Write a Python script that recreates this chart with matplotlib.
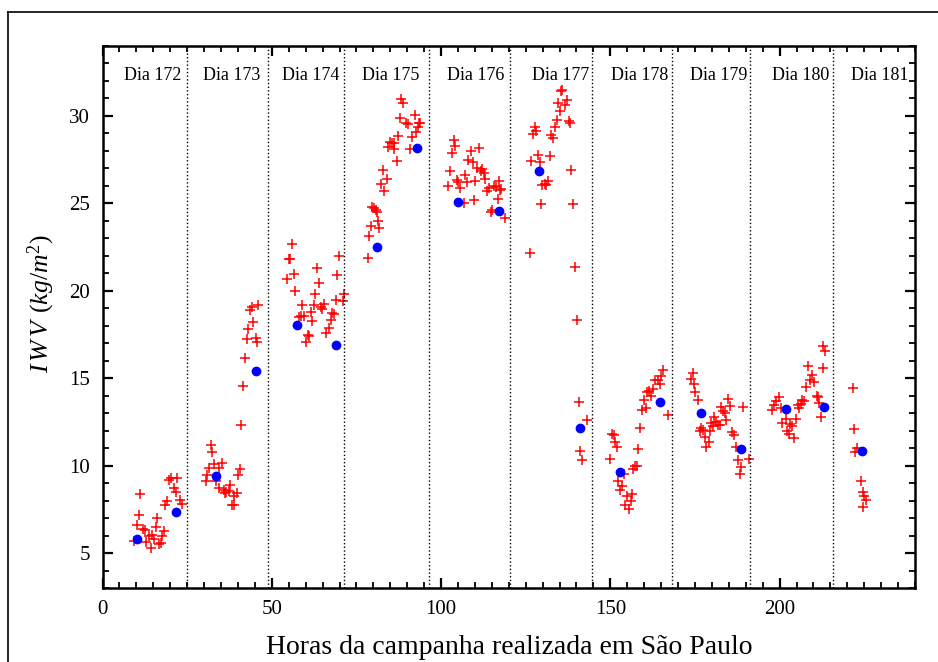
import matplotlib
matplotlib.use('Agg')
import matplotlib.pyplot as plt
from matplotlib.lines import Line2D
from matplotlib.ticker import MultipleLocator

# IWV from GPS (red crosses), hours since start of campaign
gps_hours = [
    9.4, 11.1, 10.7, 10.2, 12.0, 12.4, 12.9, 13.6, 14.2, 14.7, 15.1, 15.7, 16.2, 16.6, 17.2, 17.6, 18.2, 18.5, 19.1, 19.6, 20.3, 22.1, 21.1, 21.6, 23.0, 23.6,
    30.5, 30.9, 31.5, 32.1, 32.4, 33.0, 33.6, 34.3, 34.5, 35.2, 35.8, 36.2, 36.6, 37.4, 37.6, 38.1, 38.7, 38.9, 39.7, 40.0, 40.7, 41.0, 41.5, 42.1, 42.6, 43.1, 43.6, 44.1, 44.5, 45.2, 45.6, 46.0,
    54.6, 55.1, 55.4, 55.9, 56.6, 56.9, 58.1, 58.6, 58.9, 59.5, 60.1, 60.7, 61.0, 61.7, 61.9, 62.4, 62.9, 63.4, 63.9, 64.4, 64.8, 65.4, 66.1, 67.0, 67.4, 67.9, 68.5, 69.1, 69.2, 69.8, 71.0, 71.3,
    78.4, 78.8, 79.4, 79.7, 80.2, 80.8, 81.1, 81.3, 81.8, 82.2, 82.8, 83.2, 84.0, 84.2, 84.8, 85.5, 86.0, 86.2, 86.9, 87.2, 87.8, 88.3, 88.9, 89.5, 90.1, 90.7, 91.3, 92.2, 92.6, 93.1, 93.4, 93.8,
    102.1, 102.7, 103.2, 103.7, 104.2, 104.8, 105.1, 105.7, 106.7, 107.2, 107.7, 108.0, 108.7, 109.3, 109.7, 110.1, 110.7, 111.2, 111.7, 112.2, 112.6, 113.1, 113.6, 114.2, 114.7, 115.1, 115.6, 116.2, 116.7, 117.0, 117.3, 117.8, 119.0,
    126.3, 126.5, 127.2, 127.6, 128.1, 128.6, 129.2, 129.6, 129.9, 130.6, 131.1, 131.6, 132.1, 132.5, 133.0, 133.6, 134.2, 134.5, 135.1, 135.5, 135.8, 136.7, 137.2, 137.7, 138.1, 138.4, 139.1, 139.5, 140.1, 140.6, 140.9, 141.5, 143.1,
    150.0, 150.5, 151.0, 151.5, 152.0, 152.4, 153.0, 153.3, 154.0, 154.3, 154.8, 155.4, 156.0, 156.4, 156.8, 157.4, 157.8, 158.3, 158.9, 159.3, 160.0, 160.5, 160.9, 161.5, 162.0, 162.5, 163.2, 164.1, 164.6, 165.0, 165.6, 167.0,
    173.8, 174.5, 174.6, 175.1, 175.9, 176.4, 176.8, 177.4, 177.9, 178.4, 179.0, 179.5, 179.8, 180.3, 180.5, 181.1, 181.7, 182.3, 182.6, 183.2, 183.8, 184.2, 184.7, 185.3, 185.8, 186.5, 187.1, 187.8, 188.3, 188.7, 189.2, 190.9,
    197.7, 198.4, 198.9, 199.7, 200.3, 200.8, 202.0, 202.2, 202.7, 203.2, 203.6, 204.3, 204.8, 205.3, 205.8, 206.2, 206.7, 207.2, 207.8, 208.3, 209.1, 209.7, 210.3, 210.9, 211.3, 211.7, 212.2, 212.7, 212.9, 213.4,
    221.6, 222.1, 222.4, 222.9, 224.1, 224.5, 224.6, 224.9, 225.6,
]
gps_iwv = [
    5.67, 8.36, 7.16, 6.61, 6.38, 6.30, 5.64, 5.96, 5.27, 6.05, 5.82, 6.51, 7.00, 5.50, 5.56, 5.96, 6.28, 7.75, 7.96, 9.20, 9.27, 9.27, 8.72, 8.47, 8.05, 7.80,
    9.10, 9.45, 9.85, 11.18, 10.78, 10.10, 9.14, 8.72, 9.85, 10.15, 8.62, 8.43, 8.51, 8.53, 8.89, 7.72, 8.24, 7.72, 8.43, 9.48, 9.79, 12.34, 14.57, 16.17, 17.26, 17.83, 18.91, 19.10, 18.21, 17.30, 17.05, 19.20,
    20.70, 21.83, 21.80, 22.69, 20.95, 19.98, 18.50, 18.53, 19.20, 18.57, 17.09, 17.45, 17.40, 18.78, 18.27, 19.18, 19.79, 21.28, 20.46, 19.10, 18.95, 19.25, 17.59, 17.89, 18.31, 18.73, 18.70, 19.48, 20.89, 22.01, 19.44, 19.82,
    21.87, 23.13, 23.68, 24.81, 24.76, 24.64, 24.49, 23.98, 23.60, 26.09, 26.91, 25.69, 26.40, 28.24, 28.52, 28.43, 28.11, 28.47, 27.44, 28.85, 29.88, 30.98, 30.75, 29.61, 29.54, 28.13, 28.78, 30.08, 29.11, 29.35, 29.58, 29.61,
    25.97, 26.86, 27.87, 28.63, 28.30, 26.35, 26.25, 25.85, 25.03, 26.63, 26.23, 27.49, 27.97, 27.34, 25.20, 26.26, 27.00, 28.15, 26.85, 26.95, 26.76, 26.38, 25.71, 25.90, 24.53, 24.62, 26.00, 25.94, 25.24, 26.28, 25.79, 25.83, 24.15,
    22.18, 27.45, 28.95, 29.35, 29.16, 27.77, 27.39, 24.96, 26.05, 26.09, 26.05, 26.28, 27.71, 28.89, 28.72, 29.35, 29.74, 30.73, 30.27, 31.45, 31.49, 30.62, 30.92, 29.72, 29.59, 26.91, 24.96, 21.38, 18.30, 13.65, 10.85, 10.34, 12.58,
    10.38, 11.79, 11.75, 11.33, 11.05, 9.12, 8.63, 8.81, 9.50, 7.72, 8.28, 7.54, 7.96, 8.40, 9.81, 9.96, 10.00, 10.95, 12.15, 13.20, 13.73, 13.30, 14.19, 14.29, 13.97, 14.38, 14.91, 14.87, 14.68, 15.14, 15.49, 12.90,
    14.95, 15.30, 14.65, 14.23, 13.73, 12.00, 12.15, 12.06, 11.64, 11.06, 11.37, 12.00, 12.44, 12.25, 12.78, 12.52, 12.34, 12.34, 13.35, 13.10, 13.01, 12.63, 13.81, 13.43, 11.91, 11.77, 11.06, 10.34, 9.54, 9.90, 13.35, 10.38,
    13.17, 13.46, 13.70, 13.91, 13.32, 12.41, 12.64, 11.97, 11.80, 12.36, 12.28, 11.56, 12.64, 13.46, 13.27, 13.55, 13.77, 13.68, 14.51, 15.68, 14.89, 15.17, 14.76, 13.99, 13.90, 13.60, 12.77, 15.60, 16.86, 16.53,
    14.46, 12.09, 10.78, 11.00, 9.10, 8.49, 7.62, 8.24, 8.02,
]

# IWV from radiosondes (blue dots)
rs_hours = [10.2, 21.6, 33.4, 45.4, 57.5, 69.0, 81.0, 92.9, 105.1, 117.0,
            129.0, 141.0, 152.8, 164.6, 176.7, 188.5, 201.9, 213.0, 224.3]
rs_iwv = [5.83, 7.37, 9.41, 15.39, 18.04, 16.87, 22.53, 28.19, 25.10, 24.55,
          26.87, 12.13, 9.64, 13.66, 13.00, 10.95, 13.24, 13.33, 10.86]

# day boundaries and labels
day_breaks = [25.0, 48.8, 71.2, 96.5, 120.3, 144.7, 168.2, 191.2, 215.9]
day_labels = ['Dia 172', 'Dia 173', 'Dia 174', 'Dia 175', 'Dia 176',
              'Dia 177', 'Dia 178', 'Dia 179', 'Dia 180', 'Dia 181']
day_label_x = [14.8, 38.3, 61.6, 85.2, 110.3, 135.2, 158.8, 182.1, 206.3, 229.7]

plt.rcParams['font.family'] = ['Liberation Serif', 'DejaVu Serif']
plt.rcParams['mathtext.fontset'] = 'custom'
plt.rcParams['mathtext.rm'] = 'Liberation Serif'
plt.rcParams['mathtext.it'] = 'Liberation Serif:italic'

fig = plt.figure(figsize=(9.38, 6.62), dpi=100)
ax = fig.add_axes([0.1093, 0.1118, 0.8662, 0.8187])

ax.plot(gps_hours, gps_iwv, linestyle='none', marker='+', color='#ff0000',
        markersize=7, markeredgewidth=1.1)
ax.plot(rs_hours, rs_iwv, linestyle='none', marker='o', color='#0000ff',
        markersize=6, zorder=3)

for xb in day_breaks:
    ax.axvline(xb, color='black', linestyle=':', linewidth=1.0)
for xl, lab in zip(day_label_x, day_labels):
    ax.text(xl, 32.3, lab, ha='center', va='center', fontsize=13)

ax.set_xlim(0, 240)
ax.set_ylim(3, 34)
ax.xaxis.set_major_locator(MultipleLocator(50))
ax.xaxis.set_minor_locator(MultipleLocator(5))
ax.yaxis.set_major_locator(MultipleLocator(5))
ax.yaxis.set_minor_locator(MultipleLocator(1))
ax.tick_params(which='both', direction='in', top=True, right=True,
               labelsize=15, pad=9)
ax.tick_params(which='major', length=7, width=1.6)
ax.tick_params(which='minor', length=4, width=1.3)
for sp in ax.spines.values():
    sp.set_linewidth(1.8)

ax.set_xlabel('Horas da campanha realizada em São Paulo', fontsize=20)
ax.xaxis.set_label_coords(0.5, -0.087)
ax.set_ylabel(r'$I\,W\,V\;\,(kg/m^2)$', fontsize=18.5)
ax.yaxis.set_label_coords(-0.056, 0.525)

# outer frame
fig.add_artist(Line2D([0.0085, 1.0], [0.982, 0.982], color='black', linewidth=1.2))
fig.add_artist(Line2D([0.0085, 0.0085], [0.0, 0.982], color='black', linewidth=1.2))

fig.savefig('out.png', dpi=100)
